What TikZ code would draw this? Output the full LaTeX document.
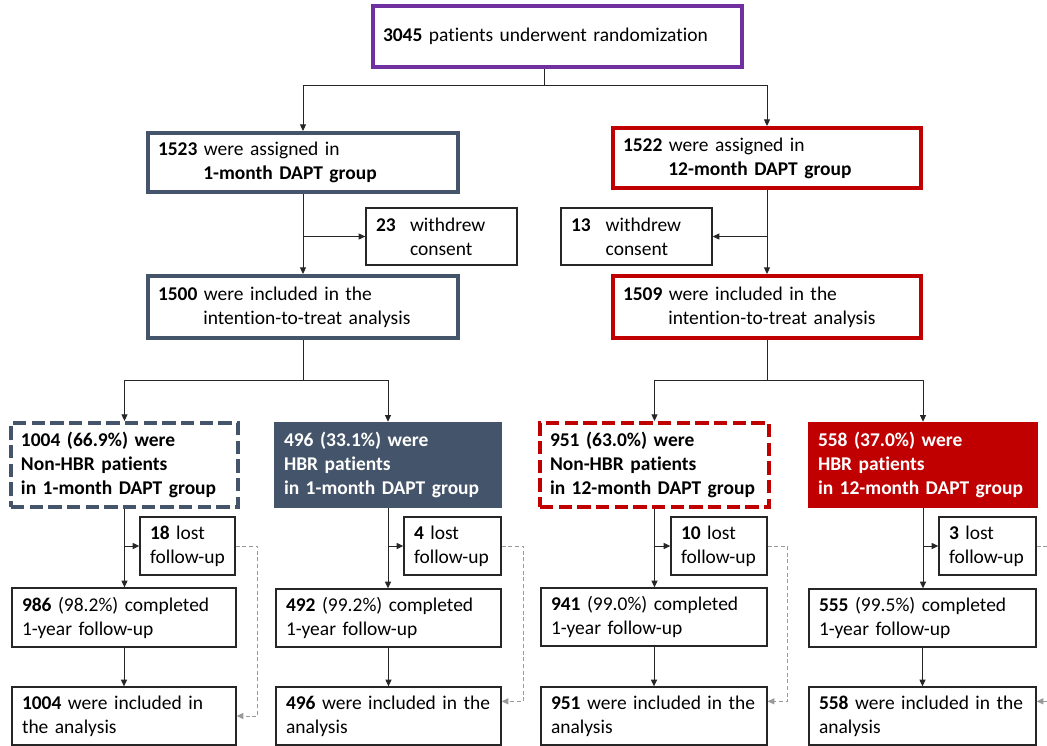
\documentclass[tikz,border=0pt]{standalone}
\usepackage{fontspec}
\setmainfont{Carlito}[Ligatures=NoCommon]
\usetikzlibrary{arrows.meta,calc}
\definecolor{slate}{HTML}{44546A}
\definecolor{dred}{HTML}{C00000}
\definecolor{purp}{HTML}{7030A0}
\newcommand{\bx}[7]{%
  \pgfmathsetmacro\tw{(#4-#2)*0.75-15}%
  \pgfmathsetmacro\bh{(#5-#3)*0.75}%
  \node[#1, minimum height=\bh pt, text width=\tw pt] (#6) at ({(#2+#4)/2},{(#3+#5)/2}) {#7};}
\newcommand{\Ln}[1]{\mbox{#1}}
\tikzset{
  base/.style={rectangle, inner xsep=7.5pt, inner ysep=2pt, align=left,
    font=\fontsize{14.6}{18}\selectfont, text=black},
  thinbox/.style={base, draw=black!85, line width=1pt, fill=white},
  slatebox/.style={base, draw=slate, line width=3pt},
  redbox/.style={base, draw=dred, line width=3pt},
  topbox/.style={base, draw=purp, line width=3pt},
  slatedash/.style={base, draw=slate, line width=3pt, dash pattern=on 10pt off 4pt},
  reddash/.style={base, draw=dred, line width=3pt, dash pattern=on 10pt off 4pt},
  slatefill/.style={base, fill=slate, text=white, font=\fontsize{14.6}{18}\selectfont\bfseries},
  redfill/.style={base, fill=dred, text=white, font=\fontsize{14.6}{18}\selectfont\bfseries},
  conn/.style={draw=black!85, line width=0.75pt},
  arr/.style={conn, -{Triangle[length=5pt,width=4.5pt]}},
  lostline/.style={draw=black!40, line width=0.75pt, dash pattern=on 3pt off 2pt},
  lostarr/.style={lostline, -{Triangle[length=5pt,width=4.5pt]}}
}
\begin{document}
\begin{tikzpicture}[x=0.75pt, y=-0.75pt]
\fill[white] (0,0) rectangle (1047,746);
\useasboundingbox (0,0) rectangle (1047,746);

% top
\bx{topbox}{373}{6}{742}{67}{top}{\Ln{\textbf{3045} patients underwent randomization}}
% group boxes
\bx{slatebox}{148}{133}{458}{192}{g1}{\Ln{\textbf{1523} were assigned in}\\\Ln{\hspace*{34pt}\textbf{1-month DAPT group}}}
\bx{redbox}{613}{128}{921}{188}{g2}{\Ln{\textbf{1522} were assigned in}\\\Ln{\hspace*{34pt}\textbf{12-month DAPT group}}}
\bx{thinbox}{366}{208}{517}{265}{w1}{\Ln{\makebox[25.5pt][l]{\textbf{23}}withdrew}\\\Ln{\hspace*{25.5pt}consent}}
\bx{thinbox}{561}{208}{712}{265}{w2}{\Ln{\makebox[26pt][l]{\textbf{13}}withdrew}\\\Ln{\hspace*{26pt}consent}}
\bx{slatebox}{148}{276}{458}{338}{i1}{\Ln{\textbf{1500} were included in the}\\\Ln{\hspace*{34pt}intention-to-treat analysis}}
\bx{redbox}{613}{276}{921}{338}{i2}{\Ln{\textbf{1509} were included in the}\\\Ln{\hspace*{34pt}intention-to-treat analysis}}

% subgroup boxes
\bx{slatedash}{11}{423}{238}{507}{a}{\Ln{\textbf{1004 (66.9\%) were}}\\\Ln{\textbf{Non-HBR patients}}\\\Ln{\textbf{in 1-month DAPT group}}}
\bx{slatefill}{274}{422}{502}{508}{b}{\Ln{496 (33.1\%) were}\\\Ln{HBR patients}\\\Ln{in 1-month DAPT group}}
\bx{reddash}{540}{423}{769}{507}{c}{\Ln{\textbf{951 (63.0\%) were}}\\\Ln{\textbf{Non-HBR patients}}\\\Ln{\textbf{in 12-month DAPT group}}}
\bx{redfill}{808}{422}{1038}{508}{d}{\Ln{558 (37.0\%) were}\\\Ln{HBR patients}\\\Ln{in 12-month DAPT group}}

% lost to follow-up
\bx{thinbox}{140}{517}{235}{575}{la}{\Ln{\textbf{18} lost}\\\Ln{follow-up}}
\bx{thinbox}{404}{517}{501}{575}{lb}{\Ln{\textbf{4} lost}\\\Ln{follow-up}}
\bx{thinbox}{671}{517}{767}{575}{lc}{\Ln{\textbf{10} lost}\\\Ln{follow-up}}
\bx{thinbox}{939}{517}{1036}{575}{ld}{\Ln{\textbf{3} lost}\\\Ln{follow-up}}

% completed
\bx{thinbox}{12}{588}{236}{647}{ca}{\Ln{\textbf{986} (98.2\%) completed}\\\Ln{1-year follow-up}}
\bx{thinbox}{276}{589}{501}{647}{cb}{\Ln{\textbf{492} (99.2\%) completed}\\\Ln{1-year follow-up}}
\bx{thinbox}{541}{588}{767}{646}{cc}{\Ln{\textbf{941} (99.0\%) completed}\\\Ln{1-year follow-up}}
\bx{thinbox}{809}{589}{1036}{647}{cd}{\Ln{\textbf{555} (99.5\%) completed}\\\Ln{1-year follow-up}}

% final
\bx{thinbox}{12}{687}{236}{745}{fa}{\Ln{\textbf{1004} were included in}\\\Ln{the analysis}}
\bx{thinbox}{276}{687}{501}{745}{fb}{\Ln{\textbf{496} were included in the}\\\Ln{analysis}}
\bx{thinbox}{541}{687}{767}{745}{fc}{\Ln{\textbf{951} were included in the}\\\Ln{analysis}}
\bx{thinbox}{809}{687}{1036}{745}{fd}{\Ln{\textbf{558} were included in the}\\\Ln{analysis}}

% connectors: top
\coordinate (j0) at (544,85);
\draw[conn] (top.south -| j0) -- (j0);
\draw[arr] (j0) -| (g1.north);
\draw[arr] (j0) -| (g2.north);
% group -> itt
\draw[arr] (g1.south) -- (g1.south |- i1.north);
\draw[arr] (g1.south |- w1.west) -- (w1.west);
\draw[arr] (g2.south) -- (g2.south |- i2.north);
\draw[arr] (g2.south |- w2.east) -- (w2.east);
% itt -> subgroups
\coordinate (j1) at (303,380);
\coordinate (j2) at (767,380);
\draw[conn] (i1.south) -- (j1);
\draw[arr] (j1) -| (a.north);
\draw[arr] (j1) -| (b.north);
\draw[conn] (i2.south) -- (j2);
\draw[arr] (j2) -| (c.north);
\draw[arr] (j2) -| (d.north);

% columns
\foreach \s/\l/\c/\f in {a/la/ca/fa, b/lb/cb/fb, c/lc/cc/fc, d/ld/cd/fd}{
  \draw[arr] (\s.south) -- (\s.south |- \c.north);
  \draw[arr] (\s.south |- \l.west) -- (\l.west);
  \draw[arr] (\c.south) -- (\c.south |- \f.north);
}

% dashed lost-to-analysis lines
\coordinate (edge) at (1047,0);
\draw[lostarr] (la.east) -- ++(22,0) |- (fa.east);
\coordinate (fbe) at ([yshift=11pt]fb.east);
\coordinate (fce) at ([yshift=11pt]fc.east);
\coordinate (fde) at ([yshift=11pt]fd.east);
\draw[lostarr] (lb.east) -- ++(22,0) |- (fbe);
\draw[lostarr] (lc.east) -- ++(20,0) |- (fce);
\draw[lostline] (ld.east) -- (ld.east -| edge);
\draw[lostarr] (fde -| edge) -- (fde);
\end{tikzpicture}
\end{document}
